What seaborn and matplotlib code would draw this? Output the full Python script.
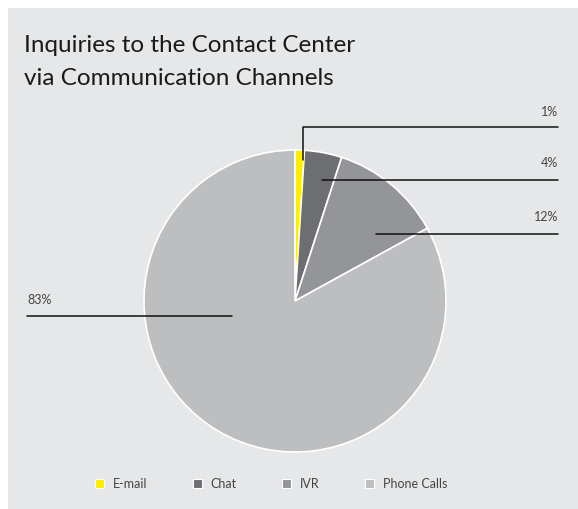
import matplotlib
matplotlib.use("Agg")
import matplotlib.pyplot as plt
from matplotlib.patches import Rectangle
import seaborn as sns

# Share of inquiries by communication channel (%)
channels = ["E-mail", "Chat", "IVR", "Phone Calls"]
shares = [1, 4, 12, 83]
share_labels = ["1%", "4%", "12%", "83%"]
colors = ["#ffed00", "#6d6e71", "#939598", "#bcbec0"]

title_lines = ["Inquiries to the Contact Center", "via Communication Channels"]

sns.set_theme(style="white")
plt.rcParams["font.family"] = ["Lato", "DejaVu Sans"]

W, H = 578, 509
fig = plt.figure(figsize=(W / 100, H / 100), dpi=100)
fig.patch.set_facecolor("white")

# light grey panel
fig.patches.append(Rectangle((8 / W, 0), 1 - 8 / W, 1 - 8 / H,
                             transform=fig.transFigure, facecolor="#e6e7e8",
                             edgecolor="none", zorder=-5))

ax = fig.add_axes([0, 0, 1, 1], zorder=1)
ax.patch.set_alpha(0)

# y axis is inverted below: startangle=-90 points up, counterclock=True runs clockwise
wedges, _ = ax.pie(shares, colors=colors, startangle=-90, counterclock=True,
                   center=(295, 301), radius=151, frame=True,
                   wedgeprops=dict(edgecolor="white", linewidth=1.2))
ax.set_xlim(0, W)
ax.set_ylim(H, 0)
ax.set_aspect("equal")
ax.axis("off")

# title
for i, line in enumerate(title_lines):
    ax.text(24, 52 + i * 33, line, fontsize=17.5, color="#1a1a1a",
            ha="left", va="baseline", fontweight="normal")

lc = "#111111"
lw = 1.1
tc = "#444444"
fs = 9
# 1% leader (elbow)
ax.plot([303, 303, 558], [160, 127, 127], color=lc, lw=lw, zorder=5)
ax.text(558, 116, share_labels[0], ha="right", va="baseline", fontsize=fs, color=tc)
# 4% leader
ax.plot([322, 558], [180, 180], color=lc, lw=lw, zorder=5)
ax.text(558, 167, share_labels[1], ha="right", va="baseline", fontsize=fs, color=tc)
# 12% leader
ax.plot([376, 558], [234, 234], color=lc, lw=lw, zorder=5)
ax.text(558, 221, share_labels[2], ha="right", va="baseline", fontsize=fs, color=tc)
# 83% leader
ax.plot([27, 232], [316, 316], color=lc, lw=lw, zorder=5)
ax.text(27, 304, share_labels[3], ha="left", va="baseline", fontsize=fs, color=tc)

# legend
handles = [Rectangle((0, 0), 1, 1, facecolor=c, edgecolor="white", linewidth=0.8)
           for c in colors]
leg = ax.legend(handles, channels, loc="center", ncol=4,
                bbox_to_anchor=(271 / W, 1 - 484 / H), bbox_transform=fig.transFigure,
                frameon=False,
                handlelength=0.75, handleheight=0.75, handletextpad=0.7,
                columnspacing=3.6, fontsize=9)
for t in leg.get_texts():
    t.set_color("#444444")

fig.savefig("out.png", dpi=100, facecolor="white")
